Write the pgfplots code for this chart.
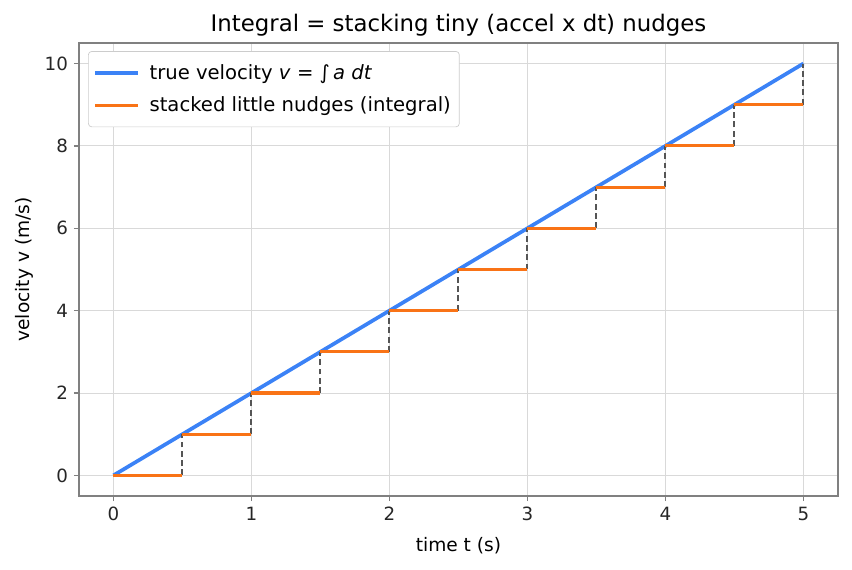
\documentclass[border=0pt]{standalone}
\usepackage{pgfplots}
\pgfplotsset{compat=1.18}
\usepackage{fontspec}
\setmainfont{DejaVu Sans}
\definecolor{tblue}{HTML}{3B82F6}
\definecolor{torange}{HTML}{F97316}
\definecolor{dgray}{HTML}{555555}
\begin{document}
\begin{tikzpicture}
\begin{axis}[
  scale only axis,
  width=449pt, height=268pt,
  xmin=-0.25, xmax=5.25, ymin=-0.5, ymax=10.5,
  xtick={0,1,2,3,4,5}, ytick={0,2,4,6,8,10},
  /pgf/number format/assume math mode=true,
  tick label style={font=\fontsize{10.8}{12}\selectfont, color=black!85},
  label style={font=\fontsize{11}{13}\selectfont},
  xlabel style={yshift=-3pt},
  title style={font=\fontsize{13.5}{15}\selectfont, yshift=-5.5pt},
  title={Integral = stacking tiny (accel x dt) nudges},
  xlabel={time t (s)}, ylabel={velocity v (m/s)},
  grid=major, major grid style={color=black!15, line width=0.5pt},
  axis line style={color=black!50, line width=0.8pt},
  tick style={color=black!50, line width=0.8pt},
  tick align=outside, major tick length=3pt,
  xtick pos=bottom, ytick pos=left,
  unbounded coords=jump,
  legend pos=north west,
  legend cell align=left,
  legend style={font=\fontsize{11.6}{13}\selectfont, draw=black!20, rounded corners=2pt, inner xsep=3pt, inner ysep=5.5pt, at={(0.012,0.982)}, row sep=5pt},
  legend image code/.code={\draw[#1] (0pt,0pt) -- (25pt,0pt); \path (29pt,0pt);},
]
\addplot[tblue, line width=2.2pt] coordinates {(0,0) (5,10)};
\addlegendentry{true velocity \textit{v} = ∫\,\textit{a dt}}
\addplot[dgray, dash pattern=on 3.5pt off 2pt, line width=1.2pt, forget plot] table[row sep=\\] {
x y\\
0.5 0\\ 0.5 1\\ nan nan\\
1 1\\ 1 2\\ nan nan\\
1.5 2\\ 1.5 3\\ nan nan\\
2 3\\ 2 4\\ nan nan\\
2.5 4\\ 2.5 5\\ nan nan\\
3 5\\ 3 6\\ nan nan\\
3.5 6\\ 3.5 7\\ nan nan\\
4 7\\ 4 8\\ nan nan\\
4.5 8\\ 4.5 9\\ nan nan\\
5 9\\ 5 10\\
};
\addplot[torange, line width=1.8pt] table[row sep=\\] {
x y\\
0 0\\ 0.5 0\\ nan nan\\
0.5 1\\ 1 1\\ nan nan\\
1 2\\ 1.5 2\\ nan nan\\
1.5 3\\ 2 3\\ nan nan\\
2 4\\ 2.5 4\\ nan nan\\
2.5 5\\ 3 5\\ nan nan\\
3 6\\ 3.5 6\\ nan nan\\
3.5 7\\ 4 7\\ nan nan\\
4 8\\ 4.5 8\\ nan nan\\
4.5 9\\ 5 9\\
};
\addlegendentry{stacked little nudges (integral)}
\end{axis}
\pgfresetboundingbox
\path (current axis.south west) ++(-46.7pt,-43.2pt) coordinate (bl);
\path (current axis.north east) ++(8.3pt,25.4pt) coordinate (tr);
\useasboundingbox (bl) rectangle (tr);
\end{tikzpicture}
\end{document}
